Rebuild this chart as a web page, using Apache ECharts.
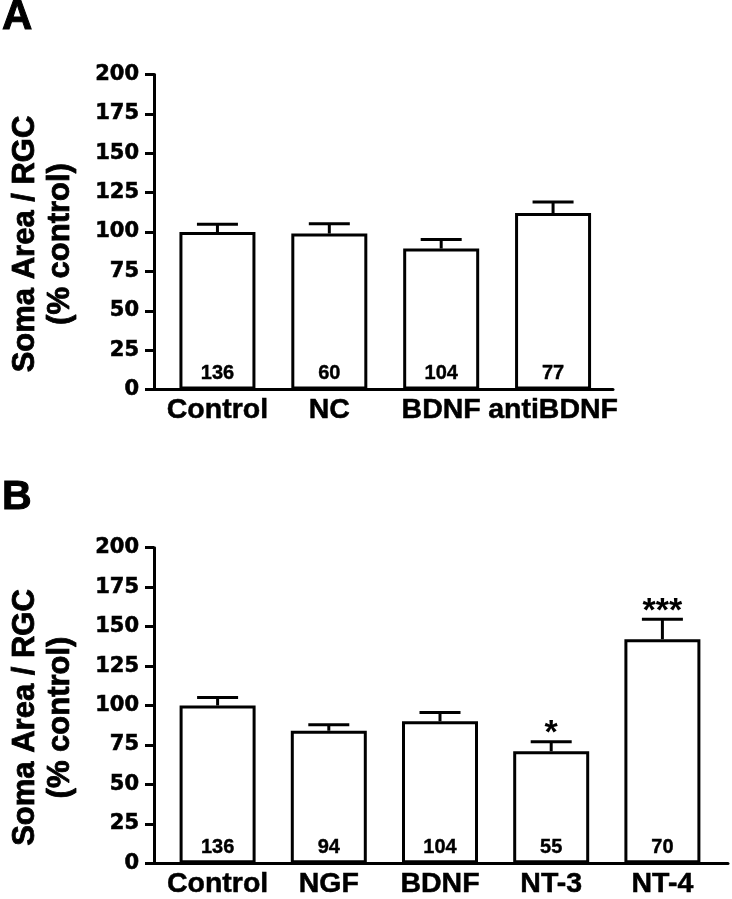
<!DOCTYPE html>
<html>
<head>
<meta charset="utf-8">
<script src="https://cdn.jsdelivr.net/npm/echarts@6/dist/echarts.min.js"></script>
<style>
html,body{margin:0;padding:0;background:#fff;}
#chart{width:732px;height:899px;}
</style>
</head>
<body>
<div id="chart"></div>
<script>
// ---- data ----
const categoriesA = ['Control', 'NC', 'BDNF', 'antiBDNF'];
const meansA = [100, 99, 89.5, 112];
const semA = [5, 6.3, 5.7, 7];
const countsA = ['136', '60', '104', '77'];

const categoriesB = ['Control', 'NGF', 'BDNF', 'NT-3', 'NT-4'];
const meansB = [100, 84, 90, 71, 142];
const semB = [5, 3.8, 5.5, 6, 12.6];
const countsB = ['136', '94', '104', '55', '70'];
const sigB = ['', '', '', '*', '***'];

const yMin = 0, yMax = 200, yStep = 25;
const yTitle = 'Soma Area / RGC\n(% control)';
const panelLetters = ['A', 'B'];

// ---- layout ----
const FONT = '"Liberation Sans", Arial, Helvetica, sans-serif';
const TICKFONT = '"DejaVu Sans", "Liberation Sans", sans-serif';
const panels = [
  { frame: {left: 147, right: 119, top: 74.5, height: 315},
    data:  {left: 161.5, right: 123, top: 74.5, height: 315},
    cats: categoriesA, means: meansA, sem: semA, counts: countsA, sig: null },
  { frame: {left: 147, right: 4, top: 547.7, height: 315.6},
    data:  {left: 162, right: 14, top: 547.7, height: 315.6},
    cats: categoriesB, means: meansB, sem: semB, counts: countsB, sig: sigB }
];

const grids = [], xAxes = [], yAxes = [], series = [];
panels.forEach(function (p, k) {
  const gF = grids.length;
  grids.push(Object.assign({containLabel: false}, p.frame));
  const gD = grids.length;
  grids.push(Object.assign({containLabel: false}, p.data));

  // frame axes
  xAxes.push({gridIndex: gF, type: 'value', min: 0, max: 1,
    axisLine: {show: true, onZero: false, lineStyle: {color: '#000', width: 3}},
    axisTick: {show: false}, axisLabel: {show: false}, splitLine: {show: false}});
  yAxes.push({gridIndex: gF, type: 'value', min: yMin, max: yMax, interval: yStep,
    axisLine: {show: true, lineStyle: {color: '#000', width: 3}},
    axisTick: {show: true, length: 9, lineStyle: {color: '#000', width: 3}},
    axisLabel: {show: true, margin: 15, color: '#000', fontSize: 21, fontWeight: 'bold', fontFamily: TICKFONT,
      textBorderColor: '#000', textBorderWidth: 0.6},
    splitLine: {show: false},
    name: yTitle, nameLocation: 'middle', nameRotate: 90, nameGap: 76,
    nameTextStyle: {color: '#000', fontSize: 31, fontWeight: 'bold', fontFamily: FONT, lineHeight: 35,
      padding: [0, 24, 0, 0], textBorderColor: '#000', textBorderWidth: 0.8}});

  // data axes
  const xD = xAxes.length;
  xAxes.push({gridIndex: gD, type: 'category', data: p.cats,
    axisLine: {show: false}, axisTick: {show: false},
    axisLabel: {show: true, interval: 0, margin: 6, color: '#000', fontSize: 28.5, fontWeight: 'bold', fontFamily: FONT,
      textBorderColor: '#000', textBorderWidth: 0.5},
    splitLine: {show: false}});
  const yD = yAxes.length;
  yAxes.push({gridIndex: gD, type: 'value', min: yMin, max: yMax, interval: yStep, show: false});

  const counts = p.counts;
  series.push({type: 'bar', xAxisIndex: xD, yAxisIndex: yD, data: p.means, barWidth: 76,
    silent: true,
    itemStyle: {color: '#fff', borderColor: '#000', borderWidth: 3},
    label: {show: true, position: 'insideBottom', distance: 6,
      formatter: function (q) { return counts[q.dataIndex]; },
      color: '#000', fontSize: 20, fontWeight: 'bold', fontFamily: FONT,
      textBorderColor: '#000', textBorderWidth: 0.4}});

  const sig = p.sig;
  series.push({type: 'custom', xAxisIndex: xD, yAxisIndex: yD, silent: true,
    data: p.means.map(function (m, i) { return [i, m, m + p.sem[i]]; }),
    renderItem: function (params, api) {
      const i = api.value(0);
      const a = api.coord([i, api.value(1)]);
      const b = api.coord([i, api.value(2)]);
      const half = 20.5;
      const st = {stroke: '#000', lineWidth: 3};
      const children = [
        {type: 'line', shape: {x1: a[0], y1: a[1], x2: b[0], y2: b[1]}, style: st},
        {type: 'line', shape: {x1: b[0] - half, y1: b[1], x2: b[0] + half, y2: b[1]}, style: st}
      ];
      if (sig && sig[params.dataIndex]) {
        children.push({type: 'text', style: {text: sig[params.dataIndex], x: b[0], y: b[1] - 8,
          align: 'center', verticalAlign: 'middle', fill: '#000',
          font: 'bold 34px ' + FONT}});
      }
      return {type: 'group', children: children};
    }});
});

const option = {
  backgroundColor: '#fff',
  animation: false,
  title: [
    {text: panelLetters[0], left: 2, top: -4, padding: 0,
     textStyle: {fontSize: 42, fontWeight: 'bold', fontFamily: FONT, color: '#000', textBorderColor: '#000', textBorderWidth: 1}},
    {text: panelLetters[1], left: 2, top: 477, padding: 0,
     textStyle: {fontSize: 41, fontWeight: 'bold', fontFamily: FONT, color: '#000', textBorderColor: '#000', textBorderWidth: 1}}
  ],
  grid: grids, xAxis: xAxes, yAxis: yAxes, series: series
};

const chart = echarts.init(document.getElementById('chart'), null, {renderer: 'canvas'});
chart.setOption(option);
</script>
</body>
</html>
